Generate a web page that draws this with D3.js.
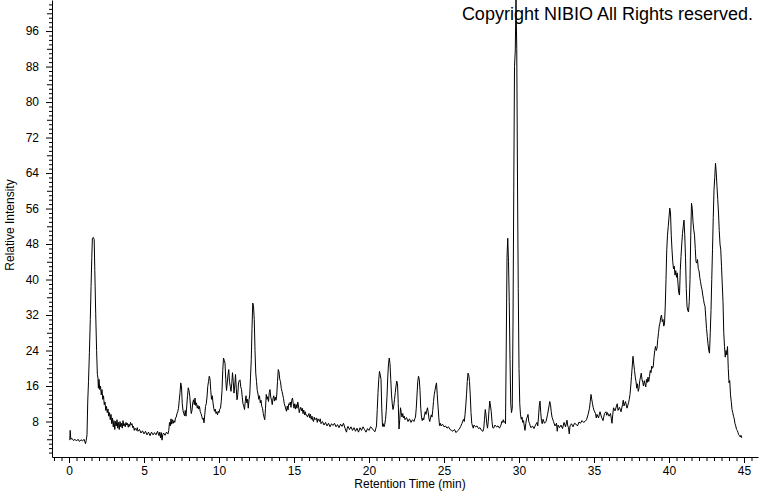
<!DOCTYPE html>
<html><head><meta charset="utf-8">
<script src="https://cdn.jsdelivr.net/npm/d3@7"></script>
<style>
html,body{margin:0;padding:0;background:#fff;}
svg{display:block;}
text{font-family:"Liberation Sans",Arial,sans-serif;}
</style>
</head><body>
<svg id="chart" width="760" height="492"></svg>
<script>
// [retention time (min), relative intensity (%)]
const solventPeak = [[0.05,3.8],[0.08,6.0],[0.12,4.0],[0.2,4.2],[0.3,3.7],[0.4,4.0],[0.5,3.6],[0.6,4.0],[0.7,3.5],[0.8,3.9],[0.9,3.6],[1.0,4.0],[1.1,3.0],[1.15,3.8],[1.2,5.0],
[1.25,12.6],[1.3,17],[1.36,23.5],[1.42,31],[1.47,38.4],[1.52,45],[1.56,49.3],[1.62,49.5],[1.68,49],[1.72,42],[1.78,32.4],[1.84,24],[1.89,18.6],[1.93,17.8],[1.96,15.5],[2.0,17.5],[2.05,15.2],[2.1,16.0],[2.15,14.0],[2.2,15.2],[2.25,13.0],[2.3,13.8],[2.35,11.8],[2.4,12.4],[2.45,10.5],[2.5,11.4],[2.55,10.0],[2.6,10.8],[2.65,9.2],[2.7,10.0],[2.75,8.4],[2.8,9.6],[2.85,7.5],[2.9,8.8],[2.95,6.8],[3.0,8.2]];

const earlyBaseline = [[3.05,6.2],[3.1,8.0],[3.15,7.0],[3.2,8.4],[3.25,6.5],[3.3,7.8],[3.35,6.2],[3.4,8.0],[3.45,6.8],[3.5,7.6],[3.55,6.5],[3.6,8.2],[3.65,7.0],[3.7,7.5],[3.75,6.8],[3.8,7.8],[3.85,7.2],[3.9,7.6],[3.95,6.7],[4.0,7.4],[4.05,6.9],[4.1,7.8],[4.15,7.2],[4.2,7.5],[4.25,6.6],[4.3,6.9],[4.35,6.0],[4.4,6.5],[4.5,6.0],[4.55,6.6],[4.6,5.8],[4.7,6.2],[4.8,5.4],[4.9,5.9],[5.0,5.2],[5.1,5.8],[5.2,5.0],[5.3,5.6],[5.4,4.8],[5.5,5.6],[5.6,5.0],[5.7,5.5],[5.8,5.0],[5.9,5.8],[6.0,4.8],[6.05,5.6],[6.1,4.3],[6.15,5.5],[6.2,3.8],[6.25,5.0],[6.3,5.4],[6.4,4.9],[6.5,5.6],[6.6,5.2],[6.65,6.0]];

const cluster7to10 = [[6.7,7.8],[6.75,7.0],[6.8,8.6],[6.85,7.4],[6.9,8.4],[6.95,7.6],[7.0,8.2],[7.05,7.8],[7.1,8.8],[7.15,9.0],[7.2,9.8],[7.25,10.2],[7.3,11.0],[7.35,12.8],[7.4,14.5],[7.45,16.7],[7.5,15.8],[7.55,12.0],[7.6,10.5],[7.65,9.8],[7.7,9.3],[7.75,10.5],[7.8,9.2],[7.85,11.5],[7.9,13.8],[7.95,15.6],[8.0,15.0],[8.05,13.7],[8.1,11.5],[8.15,9.8],[8.2,10.5],[8.25,12.2],[8.3,12.9],[8.35,11.8],[8.4,13.3],[8.45,11.6],[8.5,12.2],[8.55,11.0],[8.6,11.6],[8.65,10.8],[8.7,11.4],[8.75,10.2],[8.8,9.8],[8.85,9.2],[8.9,8.5],[8.95,8.8],[9.0,7.7],[9.05,9.5],[9.1,11.4],[9.15,12.0],[9.2,13.5],[9.25,15.9],[9.3,17.0],[9.35,18.2],[9.4,17.6],[9.45,15.0],[9.5,13.0],[9.55,13.8],[9.6,12.2],[9.65,11.0],[9.7,10.3],[9.75,10.8],[9.8,9.8],[9.85,10.2],[9.9,9.5],[9.95,10.3],[10.0,10.0]];

const cluster10to13 = [[10.05,10.8],[10.1,11.0],[10.15,12.5],[10.2,15.0],[10.25,19.5],[10.3,22.3],[10.35,21.8],[10.4,21.2],[10.45,17.5],[10.5,15.0],[10.55,16.7],[10.6,18.5],[10.65,19.7],[10.7,17.0],[10.75,15.9],[10.8,14.8],[10.85,16.5],[10.9,19.0],[10.95,17.0],[11.0,14.4],[11.05,16.0],[11.1,18.6],[11.15,15.5],[11.2,12.9],[11.25,14.0],[11.3,16.7],[11.35,17.2],[11.4,17.4],[11.45,15.8],[11.5,15.2],[11.55,13.5],[11.6,12.0],[11.65,11.5],[11.7,10.7],[11.75,12.5],[11.8,13.8],[11.85,12.2],[11.9,13.0],[11.95,11.0],[12.0,12.9],[12.05,14.0],[12.1,18.0],[12.15,21.9],[12.2,29.0],[12.25,34.7],[12.3,34.0],[12.35,31.0],[12.4,24.0],[12.45,18.9],[12.5,17.0],[12.55,15.0],[12.6,14.2],[12.65,13.0],[12.7,13.8],[12.75,12.2],[12.8,12.8],[12.85,11.4],[12.9,11.0],[12.95,9.8],[13.0,9.0]];

const cluster13to16 = [[13.05,8.4],[13.1,11.0],[13.15,14.1],[13.2,13.0],[13.25,13.6],[13.3,12.5],[13.35,14.5],[13.4,15.2],[13.45,13.5],[13.5,12.8],[13.55,11.8],[13.6,13.2],[13.65,13.8],[13.7,12.6],[13.75,13.5],[13.8,12.8],[13.85,14.0],[13.9,17.0],[13.95,19.7],[14.0,19.2],[14.05,17.5],[14.1,17.0],[14.15,15.5],[14.2,14.8],[14.25,14.0],[14.3,13.2],[14.35,12.0],[14.4,11.5],[14.45,10.8],[14.5,10.3],[14.55,11.5],[14.6,10.6],[14.65,12.0],[14.7,11.8],[14.75,12.4],[14.8,11.2],[14.85,12.8],[14.9,13.3],[14.95,12.0],[15.0,11.0],[15.05,12.0],[15.1,10.8],[15.15,11.8],[15.2,11.0],[15.25,12.4],[15.3,11.5],[15.35,10.0],[15.4,10.8],[15.45,11.2],[15.5,10.4],[15.55,11.0],[15.6,9.8],[15.65,10.6],[15.7,9.5],[15.75,10.2],[15.8,9.4],[15.85,9.5],[15.9,9.0]];

const midBaseline = [[16.0,9.8],[16.05,8.8],[16.1,9.6],[16.15,8.5],[16.2,9.2],[16.25,8.3],[16.3,8.0],[16.35,9.0],[16.4,8.4],[16.5,8.8],[16.55,7.8],[16.6,8.6],[16.7,8.0],[16.75,8.6],[16.8,7.5],[16.9,8.0],[17.0,7.2],[17.1,7.8],[17.2,7.0],[17.3,7.6],[17.4,6.8],[17.5,7.5],[17.6,7.1],[17.7,7.6],[17.8,6.8],[17.9,7.3],[18.0,6.6],[18.1,7.4],[18.2,6.9],[18.3,7.6],[18.4,6.5],[18.5,5.6],[18.55,6.5],[18.6,6.9],[18.7,6.2],[18.8,6.8],[18.9,6.0],[19.0,6.6],[19.1,5.8],[19.2,6.5],[19.3,5.6],[19.4,6.6],[19.5,6.0],[19.6,6.8],[19.7,6.2],[19.8,5.6],[19.9,6.4],[20.0,6.0],[20.1,6.8],[20.2,6.5],[20.3,6.0],[20.4,5.7],[20.45,6.4],[20.5,7.0]];

const cluster20to25 = [[20.55,10.7],[20.6,14.5],[20.65,17.5],[20.7,19.3],[20.75,18.5],[20.8,17.5],[20.85,11.0],[20.9,6.9],[20.95,7.5],[21.0,6.8],[21.05,7.4],[21.1,8.5],[21.15,10.5],[21.2,13.7],[21.25,18.0],[21.3,21.0],[21.35,22.3],[21.4,21.0],[21.45,17.5],[21.5,14.0],[21.55,12.0],[21.6,10.7],[21.65,11.5],[21.7,13.0],[21.75,14.5],[21.8,16.0],[21.85,17.1],[21.9,16.5],[21.95,12.0],[22.0,6.3],[22.05,8.5],[22.1,11.1],[22.15,10.0],[22.2,9.0],[22.25,9.8],[22.3,8.8],[22.35,9.2],[22.4,8.4],[22.5,8.9],[22.6,8.0],[22.7,8.6],[22.8,7.8],[22.9,8.4],[23.0,8.0],[23.05,8.6],[23.1,9.0],[23.15,11.0],[23.2,14.0],[23.25,17.0],[23.3,18.2],[23.35,17.5],[23.4,15.0],[23.45,11.0],[23.5,9.0],[23.55,8.2],[23.6,8.8],[23.65,8.4],[23.7,9.5],[23.75,10.2],[23.8,9.6],[23.85,10.5],[23.9,11.1],[23.95,10.0],[24.0,8.6],[24.05,8.0],[24.1,8.8],[24.15,9.5],[24.2,9.0],[24.25,10.5],[24.3,12.5],[24.35,14.1],[24.4,15.0],[24.45,16.0],[24.5,16.7],[24.55,14.0],[24.6,11.5],[24.65,9.0],[24.7,7.1]];

const cluster25to29 = [[24.75,7.6],[24.8,7.0],[24.9,7.4],[25.0,6.8],[25.1,7.0],[25.2,6.5],[25.3,6.8],[25.4,6.2],[25.5,6.0],[25.6,5.8],[25.7,6.2],[25.8,5.5],[25.9,5.9],[26.0,6.2],[26.1,6.8],[26.2,7.6],[26.3,8.5],[26.35,8.0],[26.4,9.5],[26.45,11.5],[26.5,14.0],[26.55,17.0],[26.6,18.9],[26.65,18.5],[26.7,17.0],[26.75,14.0],[26.8,10.0],[26.85,7.6],[26.9,7.0],[26.95,6.5],[27.0,7.2],[27.1,6.8],[27.2,7.0],[27.3,6.4],[27.4,6.6],[27.5,6.0],[27.6,5.8],[27.65,6.5],[27.7,8.5],[27.75,10.7],[27.8,9.5],[27.85,7.5],[27.9,6.5],[27.95,8.0],[28.0,10.5],[28.05,12.6],[28.1,11.5],[28.15,10.2],[28.2,8.0],[28.25,6.6],[28.3,6.5],[28.4,7.2],[28.5,6.8],[28.6,7.0],[28.7,6.5],[28.8,7.2],[28.85,8.0],[28.9,7.8],[28.95,8.4],[29.0,7.8],[29.05,8.0],[29.1,7.5]];

const mainPeaks = [[29.15,25],[29.2,45],[29.25,49.3],[29.3,44],[29.35,35],[29.4,22],[29.45,12],[29.5,10.0],[29.55,11.0],[29.6,30],[29.65,60],[29.7,88],[29.75,91.5],[29.8,103],[29.85,92],[29.9,62],[29.95,38],[30.0,20],[30.05,12.0]];

const lateBaseline = [[30.1,9.5],[30.15,8.5],[30.2,9.0],[30.25,7.8],[30.3,8.2],[30.35,7.0],[30.4,6.0],[30.45,7.5],[30.5,8.6],[30.55,9.0],[30.6,9.6],[30.65,8.0],[30.7,7.6],[30.75,7.0],[30.8,6.6],[30.9,7.0],[31.0,6.4],[31.1,7.2],[31.2,7.8],[31.25,7.0],[31.3,9.0],[31.35,11.5],[31.4,12.6],[31.45,10.0],[31.5,8.0],[31.55,7.5],[31.6,8.5],[31.7,7.6],[31.8,8.0],[31.9,9.5],[32.0,11.5],[32.05,12.5],[32.1,11.8],[32.15,10.2],[32.2,9.0],[32.3,8.0],[32.4,7.0],[32.5,7.6],[32.55,5.8],[32.6,7.2],[32.7,6.6],[32.8,7.2],[32.9,6.4],[33.0,7.8],[33.1,6.8],[33.2,8.3],[33.25,7.0],[33.3,6.6],[33.35,5.2],[33.4,7.0],[33.5,7.5],[33.6,6.8],[33.7,7.6],[33.8,7.4],[33.9,7.0],[34.0,7.9],[34.1,7.6],[34.2,8.2],[34.3,7.8],[34.4,8.0],[34.5,8.4],[34.6,9.5],[34.7,11.0]];

const riseTo40 = [[34.75,12.5],[34.8,14.1],[34.85,13.0],[34.9,12.0],[34.95,11.1],[35.0,10.5],[35.1,9.8],[35.15,8.8],[35.2,9.6],[35.3,8.8],[35.35,9.5],[35.4,10.2],[35.5,9.0],[35.6,8.2],[35.65,9.0],[35.7,9.8],[35.8,10.2],[35.85,9.4],[35.9,10.0],[36.0,9.2],[36.1,9.8],[36.2,7.6],[36.25,9.5],[36.3,11.1],[36.4,10.4],[36.5,11.5],[36.55,12.0],[36.6,10.5],[36.7,11.2],[36.8,10.2],[36.9,11.8],[36.95,12.8],[37.0,11.5],[37.1,12.5],[37.2,11.0],[37.3,12.2],[37.35,13.0],[37.4,14.1],[37.45,16.0],[37.5,18.2],[37.55,20.5],[37.6,22.7],[37.65,21.0],[37.7,19.5],[37.75,18.0],[37.8,17.0],[37.85,15.5],[37.9,16.5],[37.95,14.8],[38.0,15.5],[38.05,17.2],[38.1,18.0],[38.15,18.9],[38.2,17.5],[38.25,16.8],[38.3,16.0],[38.35,17.2],[38.4,16.5],[38.45,15.8],[38.5,17.5],[38.55,16.8],[38.6,18.0],[38.65,17.0],[38.7,18.2],[38.75,19.5],[38.8,19.0],[38.85,20.5],[38.9,20.0],[38.95,20.4],[39.0,22.5],[39.05,24.0],[39.1,24.9],[39.15,24.0],[39.2,24.5],[39.25,26.5],[39.3,28.0],[39.35,29.5],[39.4,30.2],[39.45,31.5],[39.5,32.0],[39.55,30.5],[39.6,31.0],[39.65,29.5],[39.7,30.0]];

const finalCluster = [[39.75,34],[39.8,40],[39.85,46.7],[39.9,50],[39.95,52],[40.0,54],[40.05,56.1],[40.1,55],[40.15,50],[40.2,46.7],[40.25,44],[40.3,42.4],[40.35,43],[40.4,41.0],[40.45,42],[40.5,40.5],[40.55,41.5],[40.6,39],[40.65,37.0],[40.7,36.5],[40.75,42],[40.8,45.2],[40.85,48],[40.9,50.4],[40.95,52],[41.0,53.4],[41.05,50],[41.1,45],[41.15,38],[41.2,34.0],[41.25,33],[41.3,32.7],[41.35,35],[41.4,40],[41.45,50],[41.5,57.2],[41.55,56],[41.6,53],[41.65,51.2],[41.7,50],[41.75,47],[41.8,44],[41.85,43.7],[41.9,44.5],[41.95,42.5],[42.0,42],[42.05,40.5],[42.1,39.5],[42.15,38.5],[42.2,37.7],[42.25,36.5],[42.3,35.5],[42.35,34.5],[42.4,34.0],[42.45,31.5],[42.5,29.0],[42.55,27.2],[42.6,25.5],[42.65,24],[42.7,23.4],[42.75,28],[42.8,33],[42.85,40],[42.9,46.7],[42.95,54],[43.0,60.2],[43.05,63],[43.1,66.2],[43.15,64],[43.2,60.9],[43.25,58],[43.3,55],[43.35,51],[43.4,48],[43.45,46.7],[43.5,43],[43.55,39],[43.6,35],[43.65,28],[43.7,24.9],[43.75,22.5],[43.8,24.0],[43.85,23.0],[43.9,24.9],[43.95,20.0],[44.0,16.7],[44.05,17.2],[44.1,14.0],[44.15,12.5],[44.2,10.7],[44.25,10.0],[44.3,9.2],[44.35,8.6],[44.4,7.5],[44.45,7.0],[44.5,6.2],[44.55,6.0],[44.6,5.5],[44.65,5.0],[44.7,4.8],[44.75,4.5],[44.8,4.9],[44.85,4.3]];

const yTickLabels = [8,16,24,32,40,48,56,64,72,80,88,96];
const xTickLabels = [0,5,10,15,20,25,30,35,40,45];
const xTitle = "Retention Time (min)";
const yTitle = "Relative Intensity";
const copyright = "Copyright NIBIO All Rights reserved.";

const trace = [].concat(solventPeak, earlyBaseline, cluster7to10, cluster10to13, cluster13to16,
  midBaseline, cluster20to25, cluster25to29, mainPeaks, lateBaseline, riseTo40, finalCluster);

const svg = d3.select("#chart");

// scales: 0 min at x=69, 15 px/min; axis line spans 52..758
const xBase = d3.scaleLinear().domain([0,45]).range([69,744]);
const x = d3.scaleLinear().domain([xBase.invert(52), xBase.invert(758)]).range([52,758]);
const y = d3.scaleLinear().domain([0,103]).range([457,0]);

svg.append("defs").append("clipPath").attr("id","plotclip")
  .append("rect").attr("x",52).attr("y",0).attr("width",706).attr("height",458);

// trace
svg.append("path")
  .datum(trace)
  .attr("clip-path","url(#plotclip)")
  .attr("fill","none")
  .attr("stroke","#000")
  .attr("stroke-width",1)
  .attr("stroke-linejoin","round")
  .attr("d", d3.line().x(d=>x(d[0])).y(d=>y(d[1])));

// Y axis
const yAxisG = svg.append("g").attr("transform","translate(52,0)");
yAxisG.call(d3.axisLeft(y).tickValues(yTickLabels).tickSize(6).tickSizeOuter(0).tickPadding(7).tickFormat(d3.format("d")));
const yMed = d3.range(4,103,8);
const yMinor = d3.range(1,103).filter(v => v % 4 !== 0);
const yMedG = svg.append("g").attr("transform","translate(52,0)")
  .call(d3.axisLeft(y).tickValues(yMed).tickSize(5).tickFormat(""));
yMedG.select(".domain").remove();
const yMinG = svg.append("g").attr("transform","translate(52,0)")
  .call(d3.axisLeft(y).tickValues(yMinor).tickSize(3).tickFormat(""));
yMinG.select(".domain").remove();

// X axis
const xAxisG = svg.append("g").attr("transform","translate(0,457)");
xAxisG.call(d3.axisBottom(x).tickValues(xTickLabels).tickSize(6).tickSizeOuter(0).tickPadding(3).tickFormat(d3.format("d")));
const xMinor = d3.range(-1, 45.6, 0.5).filter(v => v % 5 !== 0);
const xMinG = svg.append("g").attr("transform","translate(0,457)")
  .call(d3.axisBottom(x).tickValues(xMinor).tickSize(4).tickFormat(""));
xMinG.select(".domain").remove();

svg.selectAll(".tick text").attr("font-size",12).attr("font-family",'"Liberation Sans",Arial,sans-serif');

// titles
svg.append("text").attr("x",410).attr("y",488).attr("text-anchor","middle")
  .attr("font-size",12).text(xTitle);
svg.append("text").attr("transform","translate(14,225) rotate(-90)").attr("text-anchor","middle")
  .attr("font-size",12).text(yTitle);
svg.append("text").attr("x",753).attr("y",20).attr("text-anchor","end")
  .attr("font-size",18).text(copyright);
</script>
</body></html>
